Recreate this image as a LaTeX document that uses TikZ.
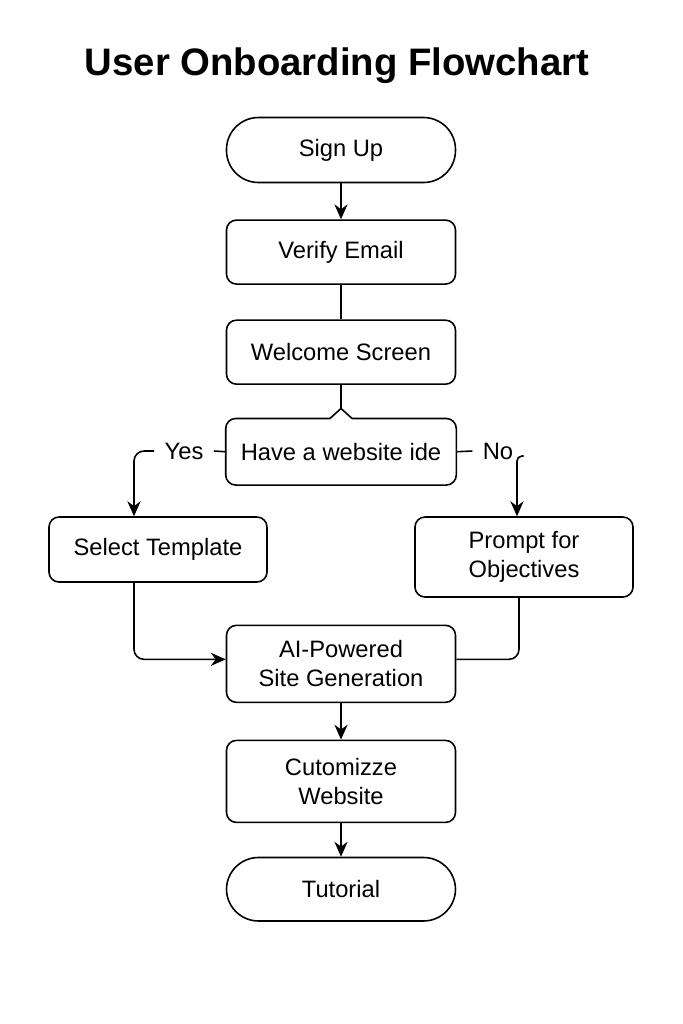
\documentclass[tikz,border=0pt]{standalone}
\usepackage{fontspec}
\setmainfont{Liberation Sans}
\usetikzlibrary{positioning,arrows.meta}

\tikzset{
  line/.style={line width=0.9pt},
  arr/.style={line, -{Stealth[length=8.5pt,width=7.5pt]}},
  box/.style={line, draw, rounded corners=0.2cm, minimum width=4.58cm,
    minimum height=1.28cm, align=center, font=\fontsize{13.5}{16.5}\selectfont},
  term/.style={box, rounded corners=0.64cm, minimum height=1.3cm},
  side/.style={box, minimum width=4.36cm},
  lbl/.style={font=\fontsize{13.5}{16.5}\selectfont, inner sep=1pt, outer sep=5pt}
}

\begin{document}
\begin{tikzpicture}[node distance=0.69cm]
  \useasboundingbox (0,0) rectangle (13.66,-20.48);

  \node[font=\fontsize{21.8}{26}\selectfont\bfseries] (title) at (6.74,-1.32) {User Onboarding Flowchart};

  % main column
  \node[term] (signup) at (6.82,-3.00) {Sign Up};
  \node[box, below=0.72cm of signup] (verify) {Verify Email};
  \node[box, below=of verify] (welcome) {Welcome Screen};
  \node[box, draw=none, minimum height=1.3cm, below=0.67cm of welcome] (dec) {Have a website ide};
  \node[box, minimum height=1.54cm, below=2.79cm of dec] (ai) {AI-Powered\\Site Generation};
  \node[box, minimum height=1.64cm, below=0.73cm of ai] (cust) {Cutomizze\\Website};
  \node[term, minimum height=1.27cm, below=0.67cm of cust] (tut) {Tutorial};

  % branches
  \node[side, minimum height=1.30cm] (sel) at (3.16,-10.99) {Select Template};
  \node[side, minimum height=1.60cm] (prompt) at (10.48,-11.14) {Prompt for\\Objectives};
  \node[lbl] (yes) at (3.68,-9.02) {Yes};
  \node[lbl] (no) at (9.96,-9.02) {No};

  % decision outline with notch
  \coordinate (apex) at ([yshift=0.2cm]dec.north);
  \draw[line, line join=round] ([xshift=-0.22cm]dec.north) -- (apex) -- ([xshift=0.22cm]dec.north);
  \draw[line, rounded corners=0.2cm] ([xshift=0.22cm]dec.north) -- (dec.north east)
    -- (dec.south east) -- (dec.south west) -- (dec.north west) -- ([xshift=-0.22cm]dec.north);

  % connectors
  \draw[arr] (signup) -- (verify);
  \draw[line] (verify) -- (welcome);
  \draw[line] (welcome) -- (apex);
  \draw[line] (dec.west) -- (yes.east);
  \draw[arr, rounded corners=0.2cm] (yes.west) -| ([xshift=-0.48cm]sel.north);
  \draw[line] (dec.east) -- (no.west);
  \draw[arr, rounded corners=0.1cm] ([yshift=-0.1cm]no.east) -| ([xshift=-0.14cm]prompt.north);
  \draw[arr, rounded corners=0.2cm] ([xshift=-0.48cm]sel.south) |- ([yshift=0.09cm]ai.west);
  \draw[line, rounded corners=0.2cm] ([xshift=-0.1cm]prompt.south) |- ([yshift=0.09cm]ai.east);
  \draw[arr] (ai) -- (cust);
  \draw[arr] (cust) -- (tut);
\end{tikzpicture}
\end{document}
